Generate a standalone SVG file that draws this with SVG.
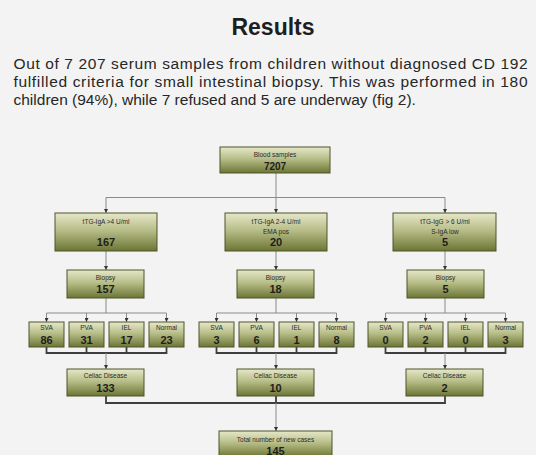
<svg xmlns="http://www.w3.org/2000/svg" width="536" height="455" viewBox="0 0 536 455">
<defs>
<linearGradient id="g" x1="0" y1="0" x2="0" y2="1">
<stop offset="0" stop-color="#e6e8c9"/>
<stop offset="0.45" stop-color="#b8be88"/>
<stop offset="1" stop-color="#6c7535"/>
</linearGradient>
<marker id="a" viewBox="0 0 4 4" refX="4" refY="2" markerWidth="4" markerHeight="4" orient="auto" markerUnits="userSpaceOnUse">
<path d="M0,0 L4,2 L0,4 z" fill="#333"/>
</marker>
<style>
text{font-family:"Liberation Sans",Arial,sans-serif;fill:#1e1e1e;text-anchor:middle}
.b{fill:url(#g);stroke:#4f5528;stroke-width:1}
.l{font-size:6.5px;fill:#2a2a2a}
.n{font-size:11px;font-weight:bold}
.c{fill:none;stroke:#8a8a8a;stroke-width:1}
.d{stroke:#8a8a8a;stroke-width:1;marker-end:url(#a)}
.k{fill:none;stroke:#3e3e3e;stroke-width:1.8}
.p{font-size:15.5px;text-anchor:start;fill:#262626}
</style>
</defs>
<rect width="536" height="455" fill="#f3f3f3"/>
<text x="273" y="35" style="font-size:23px;font-weight:bold" fill="#111">Results</text>
<text class="p" x="13.5" y="69" textLength="514" lengthAdjust="spacing">Out of 7 207 serum samples from children without diagnosed CD 192</text>
<text class="p" x="13.5" y="87" textLength="514" lengthAdjust="spacing">fulfilled criteria for small intestinal biopsy. This was performed in 180</text>
<text class="p" x="13.5" y="105">children (94%), while 7 refused and 5 are underway (fig 2).</text>

<g id="connectors">
<path class="c" d="M276,173 V197.5 M106,197.5 H445"/>
<line class="d" x1="106" y1="197.5" x2="106" y2="213"/>
<line class="d" x1="276" y1="197.5" x2="276" y2="213"/>
<line class="d" x1="445" y1="197.5" x2="445" y2="213"/>
<line class="d" x1="106" y1="251" x2="106" y2="270"/>
<line class="d" x1="276" y1="251" x2="276" y2="270"/>
<line class="d" x1="445" y1="251" x2="445" y2="270"/>
<path class="c" d="M106,298 V313 M46.5,313 H166.5 M276,298 V313 M216.5,313 H336.5 M445,298 V313 M385.5,313 H505.5"/>
<line class="d" x1="46.5" y1="313" x2="46.5" y2="322"/>
<line class="d" x1="86.5" y1="313" x2="86.5" y2="322"/>
<line class="d" x1="126.5" y1="313" x2="126.5" y2="322"/>
<line class="d" x1="166.5" y1="313" x2="166.5" y2="322"/>
<line class="d" x1="216.5" y1="313" x2="216.5" y2="322"/>
<line class="d" x1="256.5" y1="313" x2="256.5" y2="322"/>
<line class="d" x1="296.5" y1="313" x2="296.5" y2="322"/>
<line class="d" x1="336.5" y1="313" x2="336.5" y2="322"/>
<line class="d" x1="385.5" y1="313" x2="385.5" y2="322"/>
<line class="d" x1="425.5" y1="313" x2="425.5" y2="322"/>
<line class="d" x1="465.5" y1="313" x2="465.5" y2="322"/>
<line class="d" x1="505.5" y1="313" x2="505.5" y2="322"/>
<path class="k" d="M46.5,347 V353 H166.5 V347 M86.5,347 V353 M126.5,347 V353 M216.5,347 V353 H336.5 V347 M256.5,347 V353 M296.5,347 V353 M385.5,347 V353 H505.5 V347 M425.5,347 V353 M465.5,347 V353"/>
<line class="d" x1="106" y1="353" x2="106" y2="369"/>
<line class="d" x1="276" y1="353" x2="276" y2="369"/>
<line class="d" x1="445" y1="353" x2="445" y2="369"/>
<path class="k" d="M106,396 V403 H445 V396 M276,396 V403"/>
<line class="d" x1="276" y1="403" x2="276" y2="431"/>
</g>

<g id="blood"><rect class="b" x="220" y="147" width="110" height="26"/><text class="l" x="275" y="157">Blood samples</text><text class="n" x="275" y="170" style="font-size:10px">7207</text></g>

<g id="tg1"><rect class="b" x="55" y="213" width="102" height="38"/><text class="l" x="106" y="224">tTG-IgA &gt;4 U/ml</text><text class="n" x="106" y="246">167</text></g>
<g id="tg2"><rect class="b" x="225" y="213" width="102" height="38"/><text class="l" x="276" y="224">tTG-IgA 2-4 U/ml</text><text class="l" x="276" y="234">EMA pos</text><text class="n" x="276" y="245.5">20</text></g>
<g id="tg3"><rect class="b" x="393" y="213" width="103" height="38"/><text class="l" x="445" y="224">tTG-IgG &gt; 6 U/ml</text><text class="l" x="445" y="234">S-IgA low</text><text class="n" x="445" y="245.5">5</text></g>

<g id="bx1"><rect class="b" x="67" y="270" width="77" height="28"/><text class="l" x="105.5" y="280">Biopsy</text><text class="n" x="105.5" y="292.5">157</text></g>
<g id="bx2"><rect class="b" x="237" y="270" width="77" height="28"/><text class="l" x="275.5" y="280">Biopsy</text><text class="n" x="275.5" y="292.5">18</text></g>
<g id="bx3"><rect class="b" x="407" y="270" width="77" height="28"/><text class="l" x="445.5" y="280">Biopsy</text><text class="n" x="445.5" y="292.5">5</text></g>

<g id="svA1"><rect class="b" x="29" y="322" width="35" height="25"/><text class="l" x="46.5" y="330">SVA</text><text class="n" x="46.5" y="343.5">86</text></g>
<g id="pvA1"><rect class="b" x="69" y="322" width="35" height="25"/><text class="l" x="86.5" y="330">PVA</text><text class="n" x="86.5" y="343.5">31</text></g>
<g id="iel1"><rect class="b" x="109" y="322" width="35" height="25"/><text class="l" x="126.5" y="330">IEL</text><text class="n" x="126.5" y="343.5">17</text></g>
<g id="nor1"><rect class="b" x="149" y="322" width="35" height="25"/><text class="l" x="166.5" y="330">Normal</text><text class="n" x="166.5" y="343.5">23</text></g>

<g id="svA2"><rect class="b" x="199" y="322" width="35" height="25"/><text class="l" x="216.5" y="330">SVA</text><text class="n" x="216.5" y="343.5">3</text></g>
<g id="pvA2"><rect class="b" x="239" y="322" width="35" height="25"/><text class="l" x="256.5" y="330">PVA</text><text class="n" x="256.5" y="343.5">6</text></g>
<g id="iel2"><rect class="b" x="279" y="322" width="35" height="25"/><text class="l" x="296.5" y="330">IEL</text><text class="n" x="296.5" y="343.5">1</text></g>
<g id="nor2"><rect class="b" x="319" y="322" width="35" height="25"/><text class="l" x="336.5" y="330">Normal</text><text class="n" x="336.5" y="343.5">8</text></g>

<g id="svA3"><rect class="b" x="368" y="322" width="35" height="25"/><text class="l" x="385.5" y="330">SVA</text><text class="n" x="385.5" y="343.5">0</text></g>
<g id="pvA3"><rect class="b" x="408" y="322" width="35" height="25"/><text class="l" x="425.5" y="330">PVA</text><text class="n" x="425.5" y="343.5">2</text></g>
<g id="iel3"><rect class="b" x="448" y="322" width="35" height="25"/><text class="l" x="465.5" y="330">IEL</text><text class="n" x="465.5" y="343.5">0</text></g>
<g id="nor3"><rect class="b" x="488" y="322" width="35" height="25"/><text class="l" x="505.5" y="330">Normal</text><text class="n" x="505.5" y="343.5">3</text></g>

<g id="cd1"><rect class="b" x="67" y="369" width="77" height="27"/><text class="l" x="105.5" y="378">Celiac Disease</text><text class="n" x="105.5" y="391.5">133</text></g>
<g id="cd2"><rect class="b" x="237" y="369" width="77" height="27"/><text class="l" x="275.5" y="378">Celiac Disease</text><text class="n" x="275.5" y="391.5">10</text></g>
<g id="cd3"><rect class="b" x="406" y="369" width="77" height="27"/><text class="l" x="444.5" y="378">Celiac Disease</text><text class="n" x="444.5" y="391.5">2</text></g>

<g id="total"><rect class="b" x="219" y="431" width="113" height="26"/><text class="l" x="275.5" y="442">Total number of new cases</text><text class="n" x="275.5" y="454.5">145</text></g>
</svg>
